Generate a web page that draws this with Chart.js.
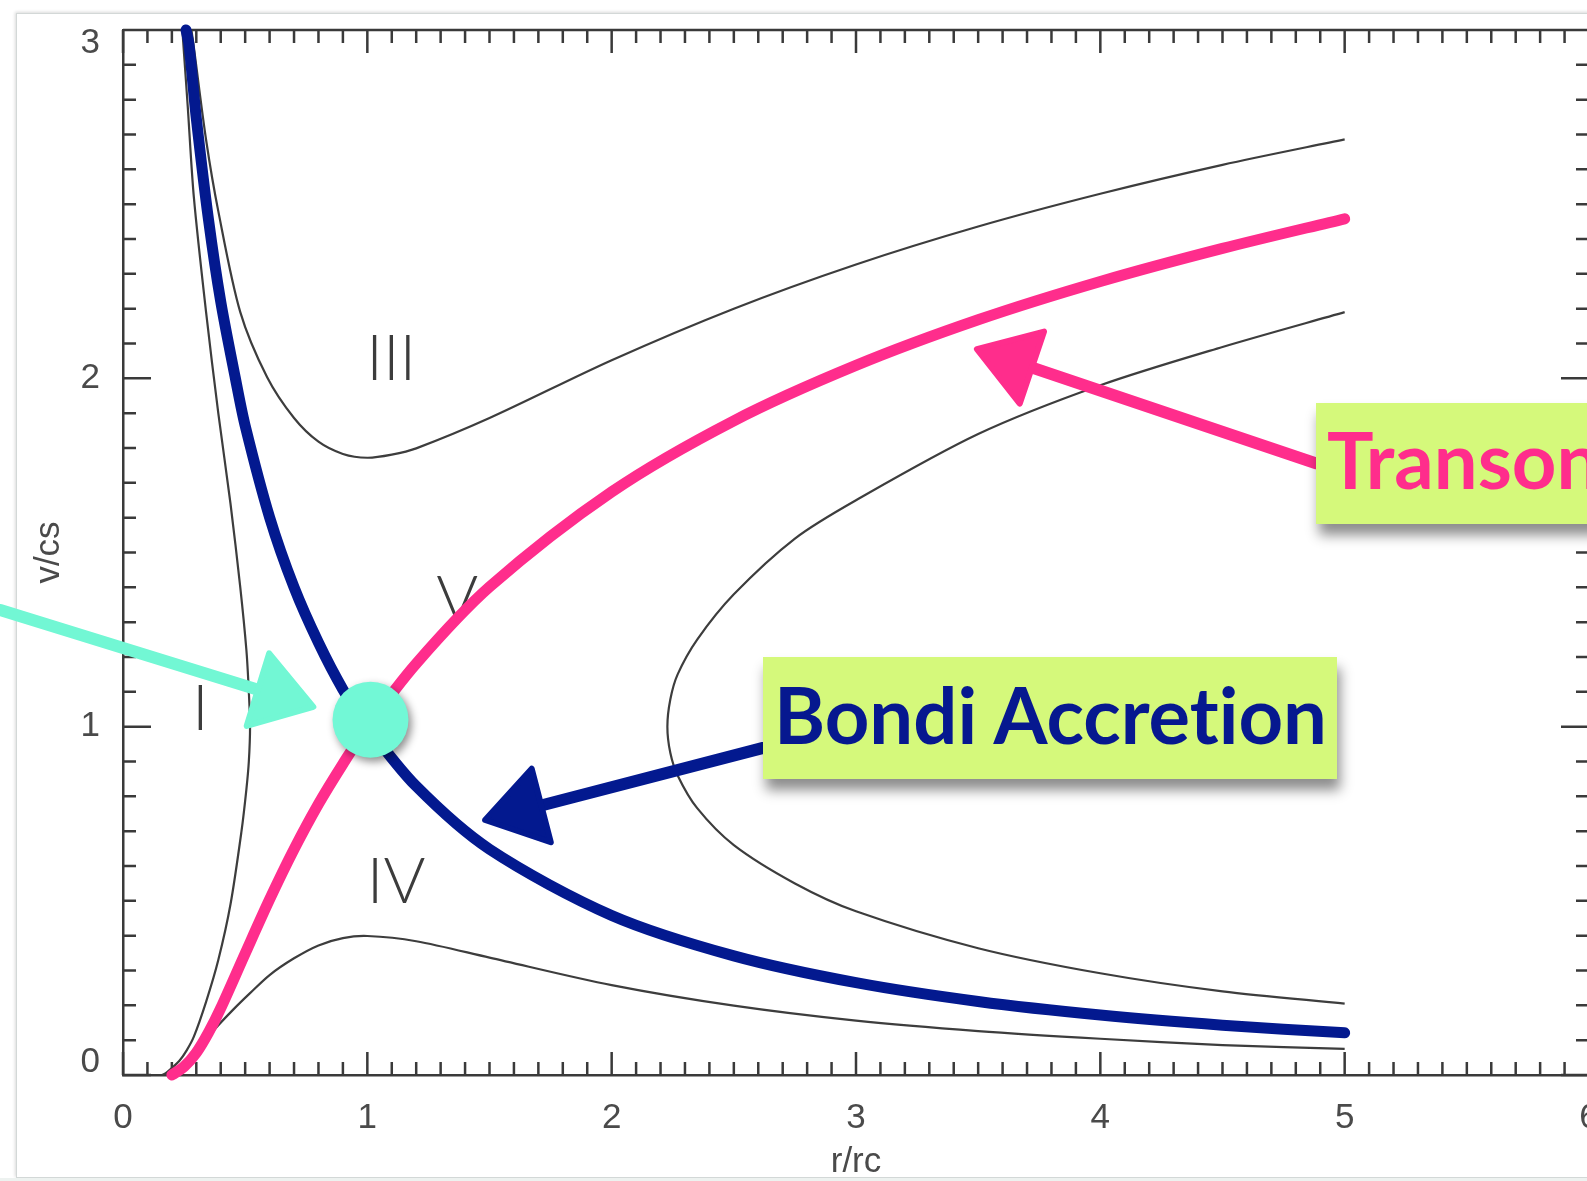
<!DOCTYPE html>
<html>
<head>
<meta charset="utf-8">
<script src="https://cdn.jsdelivr.net/npm/chart.js@4.4.0/dist/chart.umd.min.js"></script>
<style>
  html, body { margin: 0; padding: 0; width: 1587px; height: 1181px; overflow: hidden; background: #fff; }
  #frame { position: absolute; left: 16px; top: 13px; width: 1620px; height: 1163px; border: 1px solid #d3d8d7; box-shadow: -1px -1px 3px rgba(0,0,0,0.15); background: #fff; }
  #band { position: absolute; left: 0; top: 1178px; width: 1620px; height: 4px; background: #edf2f0; }
  #chart { position: absolute; left: 0; top: 0; z-index: 2; }
  .region { position: absolute; z-index: 1; font-family: Lato, sans-serif; font-weight: 300; font-size: 64px; line-height: 64px; color: #3c3c3c; transform: translate(-50%, -50%); white-space: nowrap; }
  .box { position: absolute; z-index: 3; background: #d5f97b; box-shadow: 3px 11px 12px rgba(0,0,0,0.45); }
  .boxText { position: absolute; z-index: 4; font-family: Lato, sans-serif; font-weight: 700; font-size: 78px; line-height: 78px; white-space: nowrap; transform-origin: 0 0; font-variant-ligatures: none; font-feature-settings: "liga" 0; }
</style>
</head>
<body>
<div id="frame"></div>
<div id="band"></div>
<canvas id="chart" width="1600" height="1181"></canvas>

<div class="box" style="left:763px; top:657px; width:574px; height:122px;"></div>
<div class="boxText" id="bondiText" style="left:774px; top:675px; color:#06188f;">Bondi Accretion</div>
<div class="box" style="left:1316px; top:403px; width:420px; height:121px;"></div>
<div class="boxText" id="windText" style="left:1327px; top:420px; color:#ff2d8c;">Transonic Wind</div>

<script>
// r/rc and v/cs
const bondiR = [0.258, 0.27, 0.30, 0.35, 0.40, 0.46, 0.50, 0.60, 0.70, 0.80, 0.90, 1.0, 1.2, 1.5, 2.0, 2.5, 3.0, 3.5, 4.0, 4.5, 5.0];
const bondiV = [3.0, 2.958, 2.747, 2.455, 2.22, 2.0, 1.864, 1.601, 1.40, 1.241, 1.107, 1.0, 0.829, 0.648, 0.458, 0.342, 0.265, 0.211, 0.172, 0.143, 0.121];

const windR = [0.20, 0.25, 0.30, 0.35, 0.40, 0.50, 0.60, 0.70, 0.80, 0.90, 1.0, 1.2, 1.5, 2.0, 2.5, 3.0, 3.5, 4.0, 4.5, 5.0];
const windV = [0.0, 0.024, 0.064, 0.122, 0.192, 0.349, 0.504, 0.648, 0.778, 0.893, 1.0, 1.181, 1.401, 1.674, 1.878, 2.037, 2.168, 2.278, 2.373, 2.458];

const regionI_r = [0.243, 0.25, 0.265, 0.29, 0.34, 0.39, 0.44, 0.48, 0.505, 0.515, 0.52, 0.515, 0.505, 0.485, 0.44, 0.39, 0.34, 0.29, 0.26, 0.23, 0.20, 0.175, 0.16];
const regionI_v = [3.00, 2.93, 2.78, 2.52, 2.19, 1.90, 1.64, 1.40, 1.22, 1.10, 1.00, 0.90, 0.82, 0.70, 0.49, 0.33, 0.21, 0.11, 0.07, 0.04, 0.02, 0.005, 0.0];

const regionII_r = [5.0, 4.5, 4.0, 3.5, 3.0, 2.75, 2.5, 2.35, 2.27, 2.24, 2.228, 2.24, 2.27, 2.35, 2.5, 2.75, 3.0, 3.5, 4.0, 4.5, 5.0];
const regionII_v = [2.19, 2.09, 1.98, 1.84, 1.65, 1.54, 1.38, 1.25, 1.15, 1.078, 1.0, 0.925, 0.86, 0.766, 0.66, 0.55, 0.47, 0.364, 0.292, 0.24, 0.205];

const regionIII_r = [0.28, 0.29, 0.34, 0.39, 0.48, 0.59, 0.70, 0.80, 0.90, 1.0, 1.1, 1.2, 1.5, 2.0, 2.5, 3.0, 3.5, 4.0, 4.5, 5.0];
const regionIII_v = [3.0, 2.95, 2.685, 2.48, 2.19, 2.003, 1.886, 1.818, 1.783, 1.772, 1.781, 1.799, 1.886, 2.052, 2.20, 2.327, 2.436, 2.53, 2.613, 2.686];

const regionIV_r = [0.22, 0.26, 0.316, 0.38, 0.45, 0.52, 0.60, 0.70, 0.80, 0.90, 1.0, 1.2, 1.5, 2.0, 2.5, 3.0, 3.5, 4.0, 4.5, 5.0];
const regionIV_v = [0.0, 0.03, 0.08, 0.135, 0.187, 0.235, 0.287, 0.335, 0.372, 0.393, 0.399, 0.384, 0.337, 0.258, 0.199, 0.156, 0.126, 0.104, 0.086, 0.075];

const sonicPoint = [1.013, 1.02];

const xTickLabels = ['0', '1', '2', '3', '4', '5', '6'];
const yTickLabels = ['0', '1', '2', '3'];

const regionLabels = [
  { text: 'I', at: [0.317, 1.06] },
  { text: 'III', at: [1.098, 2.064] },
  { text: 'IV', at: [1.118, 0.563] },
  { text: 'V', at: [1.368, 1.372] }
];

const arrows = [
  { from: [-0.502, 1.335], to: [0.779, 1.057], color: '#72f7d4' },
  { from: [2.62, 0.939], to: [1.482, 0.732], color: '#03198f' },
  { from: [4.883, 1.756], to: [3.495, 2.084], color: '#ff2d8c' }
];

const zip = (xs, ys) => xs.map((x, i) => ({ x, y: ys[i] }));

const gray = '#3d3d3d';
const grayLine = data => ({
  data, showLine: true, borderColor: gray, borderWidth: 2.2,
  pointRadius: 0, tension: 0.3, clip: false
});

// ticks point inwards on all four sides, every 0.1
const axisTicks = {
  id: 'axisTicks',
  beforeDatasetsDraw(chart) {
    const { ctx, chartArea: a, scales: { x, y } } = chart;
    ctx.save();
    ctx.strokeStyle = '#3a3a3a';
    ctx.lineWidth = 2.5;
    ctx.beginPath();
    ctx.moveTo(a.left, a.top);
    ctx.lineTo(a.right, a.top);
    ctx.lineTo(a.right, a.bottom);
    for (let i = 0; i <= 60; i++) {
      const px = x.getPixelForValue(i / 10);
      const len = i % 10 === 0 ? 23 : 13;
      ctx.moveTo(px, a.bottom); ctx.lineTo(px, a.bottom - len);
      ctx.moveTo(px, a.top); ctx.lineTo(px, a.top + len);
    }
    for (let i = 0; i <= 30; i++) {
      const py = y.getPixelForValue(i / 10);
      const len = i % 10 === 0 ? 28 : 13;
      ctx.moveTo(a.left, py); ctx.lineTo(a.left + len, py);
      ctx.moveTo(a.right, py); ctx.lineTo(a.right - len, py);
    }
    ctx.stroke();
    ctx.restore();
  },
  beforeDatasetDraw(chart, args) {
    if (args.index !== 0) return;
    const ctx = chart.ctx;
    ctx.save();
    ctx.shadowColor = 'rgba(0,0,0,0.45)';
    ctx.shadowBlur = 8;
    ctx.shadowOffsetX = 3;
    ctx.shadowOffsetY = 4;
  },
  afterDatasetDraw(chart, args) {
    if (args.index === 0) chart.ctx.restore();
  }
};

const arrowPlugin = {
  id: 'arrows',
  afterDatasetsDraw(chart) {
    const { ctx, scales: { x, y } } = chart;
    arrows.forEach(a => {
      const x0 = x.getPixelForValue(a.from[0]), y0 = y.getPixelForValue(a.from[1]);
      const x1 = x.getPixelForValue(a.to[0]), y1 = y.getPixelForValue(a.to[1]);
      const len = Math.hypot(x1 - x0, y1 - y0);
      const ux = (x1 - x0) / len, uy = (y1 - y0) / len;
      const headLen = 58, half = 38;
      const bx = x1 - ux * headLen, by = y1 - uy * headLen;
      ctx.save();
      ctx.strokeStyle = a.color;
      ctx.fillStyle = a.color;
      ctx.lineCap = 'round';
      ctx.lineJoin = 'round';
      ctx.lineWidth = 12;
      ctx.beginPath();
      ctx.moveTo(x0, y0);
      ctx.lineTo(bx + ux * 6, by + uy * 6);
      ctx.stroke();
      ctx.lineWidth = 6;
      ctx.beginPath();
      ctx.moveTo(x1, y1);
      ctx.lineTo(bx - uy * half, by + ux * half);
      ctx.lineTo(bx + uy * half, by - ux * half);
      ctx.closePath();
      ctx.fill();
      ctx.stroke();
      ctx.restore();
    });
  }
};

Chart.defaults.font.family = '"Liberation Sans", Arial, sans-serif';

const chart = new Chart(document.getElementById('chart'), {
  type: 'scatter',
  data: {
    datasets: [
      { data: [{ x: sonicPoint[0], y: sonicPoint[1] }], pointRadius: 38, pointBackgroundColor: '#72f8d6', pointBorderWidth: 0, clip: false },
      { data: zip(windR, windV), showLine: true, borderColor: '#ff2d8c', borderWidth: 11, borderCapStyle: 'round', pointRadius: 0, tension: 0.3, clip: false },
      { data: zip(bondiR, bondiV), showLine: true, borderColor: '#03198f', borderWidth: 11, borderCapStyle: 'round', pointRadius: 0, tension: 0.3, clip: false },
      grayLine(zip(regionI_r, regionI_v)),
      grayLine(zip(regionII_r, regionII_v)),
      grayLine(zip(regionIII_r, regionIII_v)),
      grayLine(zip(regionIV_r, regionIV_v))
    ]
  },
  options: {
    responsive: false,
    animation: false,
    devicePixelRatio: 1,
    events: [],
    layout: { autoPadding: false, padding: { left: 0, top: 30, right: 11, bottom: 0 } },
    plugins: { legend: { display: false }, tooltip: { enabled: false } },
    scales: {
      x: {
        type: 'linear', min: 0, max: 6,
        grid: { display: false },
        border: { display: true, color: '#3a3a3a', width: 2.5 },
        ticks: {
          stepSize: 1, padding: 14, color: '#4a4a4a', font: { size: 35 },
          callback: v => xTickLabels[v]
        },
        title: { display: true, text: 'r/rc', color: '#4a4a4a', font: { size: 35, lineHeight: 1 }, padding: { top: 0, bottom: 1 } },
        afterFit: s => { s.height = 106; s.paddingLeft = 0; s.paddingRight = 0; }
      },
      y: {
        type: 'linear', min: 0, max: 3,
        grid: { display: false },
        border: { display: true, color: '#3a3a3a', width: 2.5 },
        ticks: {
          stepSize: 1, padding: 15, color: '#4a4a4a', font: { size: 35, lineHeight: 0.75 },
          // end labels sit inside the axis span, as in the original plot
          callback: v => v === 0 ? [yTickLabels[v], ''] : v === 3 ? ['', yTickLabels[v]] : yTickLabels[v]
        },
        title: { display: true, text: 'v/cs', color: '#4a4a4a', font: { size: 35, lineHeight: 1.2 }, padding: { top: 28, bottom: 0 } },
        afterFit: s => { s.width = 123; s.paddingTop = 0; s.paddingBottom = 0; }
      }
    }
  },
  plugins: [axisTicks, arrowPlugin]
});

// region names sit under the canvas so the marker strokes cover them
regionLabels.forEach(l => {
  const d = document.createElement('div');
  d.className = 'region';
  d.textContent = l.text;
  d.style.left = chart.scales.x.getPixelForValue(l.at[0]) + 'px';
  d.style.top = chart.scales.y.getPixelForValue(l.at[1]) + 'px';
  document.body.appendChild(d);
});

const bondiText = document.getElementById('bondiText');
const k = 553 / bondiText.getBoundingClientRect().width;
bondiText.style.transform = `scaleX(${k})`;
document.getElementById('windText').style.transform = `scaleX(${k})`;
</script>
</body>
</html>
